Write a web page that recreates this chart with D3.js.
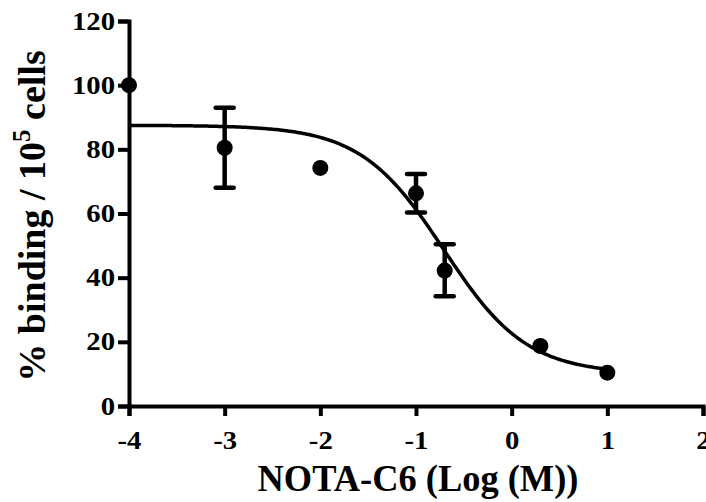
<!DOCTYPE html>
<html lang="en">
<head>
    <meta charset="UTF-8">
    <title>NOTA-C6 binding curve</title>
    <script src="https://d3js.org/d3.v7.min.js"></script>
    <style>
        body {
            margin: 0;
            background: white;
        }
        svg text {
            font-family: "Liberation Serif", "Times New Roman", serif;
            font-weight: bold;
            fill: #000;
        }
        .axis path, .axis line {
            stroke: #000;
            stroke-width: 4px;
        }
        .axis text {
            font-size: 25px;
        }
    </style>
</head>
<body>
    <script>
        // measured points (log M, % binding, error)
        const logConc = [-4, -3, -2, -1, -0.7, 0.3, 1];
        const binding = [100, 80.5, 74.2, 66.3, 42.2, 18.7, 10.4];
        const errHigh = [0, 12.5, 0, 6, 8.2, 0, 0];
        const errLow = [0, 12.5, 0, 6, 8, 0, 0];

        // sigmoidal fit
        const fitTop = 87.5, fitBottom = 10, fitLogIC50 = -0.71, fitHill = 1.0;
        const fitRange = [-4, 1];

        const xTicks = [-4, -3, -2, -1, 0, 1, 2];
        const yTicks = [0, 20, 40, 60, 80, 100, 120];

        const width = 706, height = 502;
        const svg = d3.select("body").append("svg")
            .attr("width", width)
            .attr("height", height);

        const x = d3.scaleLinear().domain([-4, 2]).range([129, 703]);
        const y = d3.scaleLinear().domain([0, 120]).range([406, 21]);

        // axes
        svg.append("g")
            .attr("class", "axis")
            .attr("transform", "translate(0,406)")
            .call(d3.axisBottom(x).tickValues(xTicks).tickFormat(d => String(d))
                .tickSizeOuter(0).tickSize(10).tickPadding(15));

        svg.append("g")
            .attr("class", "axis")
            .attr("transform", "translate(129,0)")
            .call(d3.axisLeft(y).tickValues(yTicks).tickFormat(d => String(d))
                .tickSizeOuter(0).tickSize(11).tickPadding(3));

        // tick numbers in the original are a bit wider than the font
        svg.selectAll(".axis text")
            .attr("font-family", null)
            .each(function () {
                const len = this.getComputedTextLength();
                d3.select(this).attr("textLength", len * 1.15).attr("lengthAdjust", "spacingAndGlyphs");
            });

        // fitted curve
        const fit = t => fitBottom + (fitTop - fitBottom) / (1 + Math.pow(10, (t - fitLogIC50) * fitHill));
        const curveX = d3.range(fitRange[0], fitRange[1] + 0.001, 0.02);
        svg.append("path")
            .datum(curveX)
            .attr("fill", "none")
            .attr("stroke", "#000")
            .attr("stroke-width", 3.5)
            .attr("d", d3.line().x(d => x(d)).y(d => y(fit(d))));

        const pts = logConc.map((c, i) => ({ c, v: binding[i], hi: errHigh[i], lo: errLow[i] }));

        // error bars
        const eb = svg.append("g").selectAll("g")
            .data(pts.filter(d => d.hi > 0 || d.lo > 0))
            .join("g")
            .attr("stroke", "#000")
            .attr("stroke-width", 4.5);
        eb.append("line")
            .attr("x1", d => x(d.c)).attr("x2", d => x(d.c))
            .attr("y1", d => y(d.v + d.hi)).attr("y2", d => y(d.v - d.lo));
        eb.append("line")
            .attr("stroke-linecap", "round")
            .attr("x1", d => x(d.c) - 9).attr("x2", d => x(d.c) + 9)
            .attr("y1", d => y(d.v + d.hi)).attr("y2", d => y(d.v + d.hi));
        eb.append("line")
            .attr("stroke-linecap", "round")
            .attr("x1", d => x(d.c) - 9).attr("x2", d => x(d.c) + 9)
            .attr("y1", d => y(d.v - d.lo)).attr("y2", d => y(d.v - d.lo));

        // points
        svg.append("g").selectAll("circle")
            .data(pts)
            .join("circle")
            .attr("cx", d => x(d.c))
            .attr("cy", d => y(d.v))
            .attr("r", 8)
            .attr("fill", "#000");

        // axis titles
        svg.append("text")
            .attr("x", 418)
            .attr("y", 491)
            .attr("text-anchor", "middle")
            .attr("textLength", 321)
            .attr("lengthAdjust", "spacingAndGlyphs")
            .style("font-size", "38px")
            .text("NOTA-C6 (Log (M))");

        const yl = svg.append("text")
            .attr("transform", "translate(45,216) rotate(-90)")
            .attr("text-anchor", "middle")
            .style("font-size", "38px");
        yl.append("tspan").text("% binding / 10");
        yl.append("tspan").attr("dy", -15).style("font-size", "25px").text("5");
        yl.append("tspan").attr("dy", 15).text(" cells");
    </script>
</body>
</html>
